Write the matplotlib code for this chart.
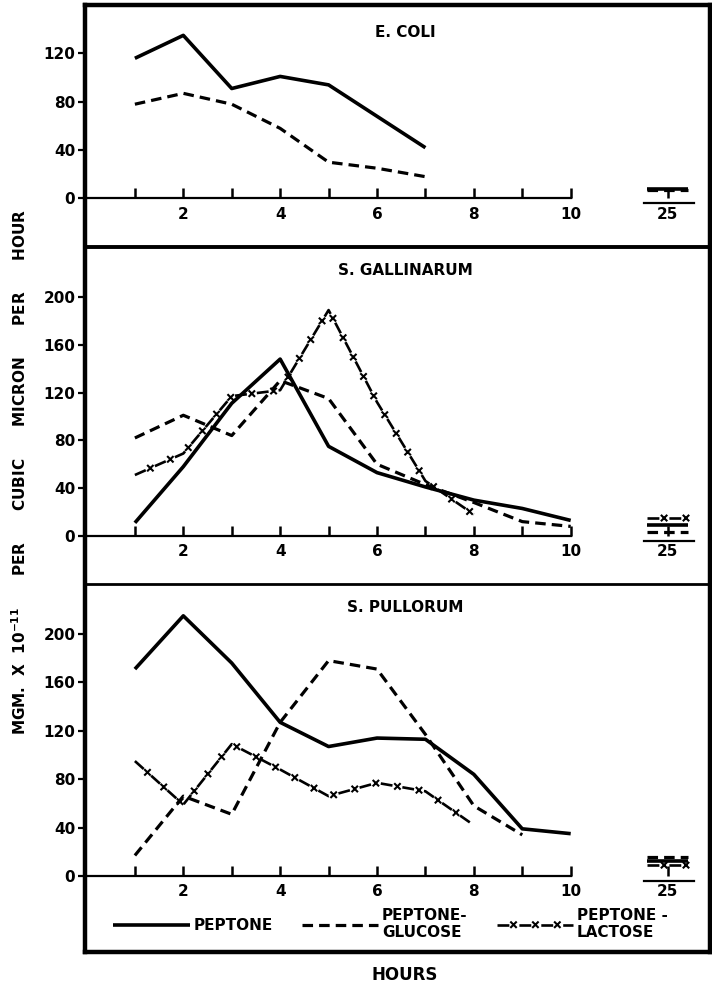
import numpy as np
import matplotlib.pyplot as plt
import matplotlib.patheffects as pe
from matplotlib.path import Path
from matplotlib.transforms import IdentityTransform
from matplotlib.lines import Line2D

plt.rcParams['font.family'] = ['DejaVu Sans']
plt.rcParams['font.weight'] = 'bold'

# hours sampled
hours = [1, 2, 3, 4, 5, 6, 7, 8, 9, 10]
late_label = '25'

# E. coli
coli_peptone = [116, 135, 91, 101, 94, 68, 42]
coli_glucose = [78, 87, 78, 58, 30, 25, 18]
coli_late = {'peptone': 8, 'glucose': 7}

# S. gallinarum
gall_peptone = [11, 58, 111, 148, 75, 53, 41, 30, 23, 13]
gall_glucose = [82, 101, 84, 130, 115, 60, 43, 28, 12, 8]
gall_lactose = [51, 69, 117, 122, 189, 112, 46, 18]
gall_late = {'lactose': 15, 'peptone': 9, 'glucose': 3}

# S. pullorum
pull_peptone = [171, 215, 176, 127, 107, 114, 113, 84, 39, 35]
pull_glucose = [17, 66, 51, 127, 178, 171, 117, 58, 34]
pull_lactose = [95, 59, 109, 88, 66, 77, 70, 42]
pull_late = {'glucose': 16, 'peptone': 12, 'lactose': 9}


class CrossDash(pe.AbstractPathEffect):
    # dashed line with a small x in every gap
    def __init__(self, size=2.3, lw=1.5):
        super().__init__()
        self.size = size
        self.lw = lw

    def draw_path(self, renderer, gc, tpath, affine, rgbFace=None):
        renderer.draw_path(gc, tpath, affine, rgbFace)
        verts = affine.transform(tpath.vertices)
        offset, dashes = gc.get_dashes()
        if len(verts) < 2 or not dashes:
            return
        on = renderer.points_to_pixels(dashes[0])
        off = renderer.points_to_pixels(dashes[1])
        seg = np.hypot(*np.diff(verts, axis=0).T)
        cum = np.concatenate([[0], np.cumsum(seg)])
        pos = np.arange(on + off / 2, cum[-1], on + off)
        xs = np.interp(pos, cum, verts[:, 0])
        ys = np.interp(pos, cum, verts[:, 1])
        s = renderer.points_to_pixels(self.size)
        pts, codes = [], []
        for x, y in zip(xs, ys):
            pts += [(x - s, y - s), (x + s, y + s), (x - s, y + s), (x + s, y - s)]
            codes += [Path.MOVETO, Path.LINETO, Path.MOVETO, Path.LINETO]
        if not pts:
            return
        gc0 = renderer.new_gc()
        gc0.copy_properties(gc)
        gc0.set_dashes(0, None)
        gc0.set_linewidth(self.lw)
        renderer.draw_path(gc0, Path(pts, codes), IdentityTransform())
        gc0.restore()


styles = {
    'peptone': dict(color='black', lw=2.6, ls='-', solid_capstyle='butt'),
    'glucose': dict(color='black', lw=2.3, ls=(0, (3.3, 1.9)), dash_capstyle='butt'),
    'lactose': dict(color='black', lw=1.9, ls=(0, (4.5, 3.8)), dash_capstyle='butt',
                    path_effects=[CrossDash()]),
}

late_x = 12
fig = plt.figure(figsize=(7.12, 9.84), dpi=100)

left, width = 0.1194, 0.878
frame = fig.add_axes([left, 0.0325, width, 0.9624])
frame.set_xticks([])
frame.set_yticks([])
for sp in frame.spines.values():
    sp.set_linewidth(3.2)

ax1 = fig.add_axes([left, 0.749, width, 0.246])
ax2 = fig.add_axes([left, 0.4065, width, 0.3425])
ax3 = fig.add_axes([left, 0.0325, width, 0.374])

panels = [
    (ax1, 'E. COLI', (-40.2, 160.2), [0, 40, 80, 120], 0.888,
     {'peptone': coli_peptone, 'glucose': coli_glucose}, coli_late),
    (ax2, 'S. GALLINARUM', (-40.2, 241.8), [0, 40, 80, 120, 160, 200], 0.929,
     {'peptone': gall_peptone, 'glucose': gall_glucose, 'lactose': gall_lactose}, gall_late),
    (ax3, 'S. PULLORUM', (-62.8, 241.3), [0, 40, 80, 120, 160, 200], 0.935,
     {'peptone': pull_peptone, 'glucose': pull_glucose, 'lactose': pull_lactose}, pull_late),
]

for i, (ax, title, ylim, yticks, ty, series, late) in enumerate(panels):
    ax.patch.set_visible(False)
    ax.set_xlim(-0.03, 12.88)
    ax.set_ylim(*ylim)
    for name in ['left', 'right']:
        ax.spines[name].set_visible(False)
    if i == 0:
        ax.spines['top'].set_visible(False)
    else:
        ax.spines['top'].set_linewidth(2.8 if i == 1 else 2.0)
    ax.spines['bottom'].set_position(('data', 0))
    ax.spines['bottom'].set_bounds(-0.03, 10)
    ax.spines['bottom'].set_linewidth(1.6)

    for name, vals in series.items():
        ax.plot(hours[:len(vals)], vals, **styles[name])
    for name, v in late.items():
        ax.hlines(v, late_x - 0.42, late_x + 0.42, **{k: w for k, w in styles[name].items()
                                                       if k in ('color', 'lw', 'ls', 'path_effects')})
    # short base line for the 25 hour reading
    ax.plot([late_x - 0.48, late_x + 0.55], [-4, -4], color='black', lw=1.6)

    ax.set_xticks([2, 4, 6, 8, 10, late_x], ['2', '4', '6', '8', '10', late_label])
    ax.set_xticks([1, 3, 5, 7, 9], minor=True)
    ax.tick_params(axis='x', which='both', direction='in', length=7, width=1.8,
                   pad=6, labelsize=11)
    ax.set_yticks(yticks, [str(t) for t in yticks])
    ax.tick_params(axis='y', direction='out', length=5, width=1.6, pad=2, labelsize=11)
    ax.text(0.512, ty, title, transform=ax.transAxes, ha='center', va='center',
            fontsize=11, fontweight='bold')

handles = [Line2D([], [], **styles['peptone']),
           Line2D([], [], **styles['glucose']),
           Line2D([], [], **styles['lactose'])]
ax3.legend(handles, ['PEPTONE', 'PEPTONE-\nGLUCOSE', 'PEPTONE -\nLACTOSE'],
           loc='center left', bbox_to_anchor=(0.033, 0.076), ncol=3, frameon=False,
           handlelength=5.0, handletextpad=0.25, columnspacing=1.9, borderpad=0,
           labelspacing=0, prop={'size': 11, 'weight': 'bold'})

fig.text(0.028, 0.521,
         r'MGM.  X  10$^{\mathbf{-11}}$      PER      CUBIC      MICRON      PER      HOUR',
         rotation=90, ha='center', va='center', fontsize=11, fontweight='bold')
fig.text(0.568, 0.0091, 'HOURS', ha='center', va='center', fontsize=12, fontweight='bold')

fig.savefig('out.png', dpi=100)
